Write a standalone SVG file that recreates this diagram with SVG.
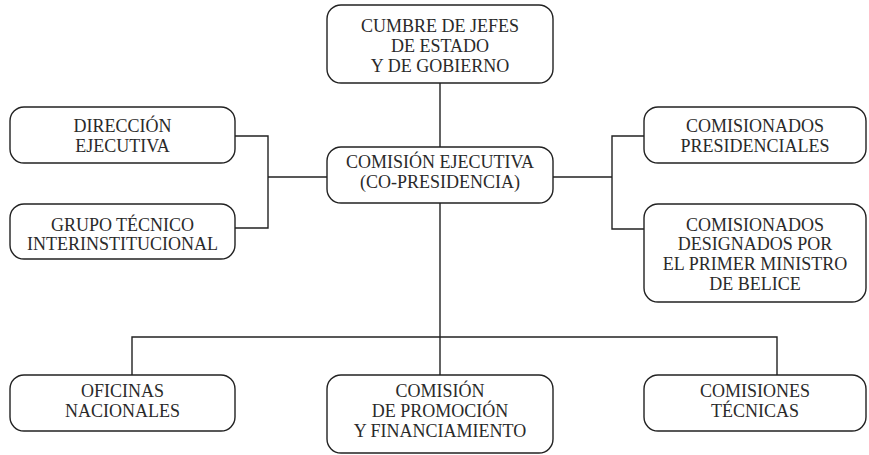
<svg xmlns="http://www.w3.org/2000/svg" width="869" height="455" viewBox="0 0 869 455">
<style>
.box{fill:#fff;stroke:#222;stroke-width:1.4}
.t{font-family:"Liberation Serif","Times New Roman",serif;font-size:18px;fill:#2a2a2a;text-anchor:middle}
.c{fill:none;stroke:#222;stroke-width:1.4}
</style>
<rect width="869" height="455" fill="#fff"/>
<g id="connectors">
<path class="c" d="M440,83V147"/>
<path class="c" d="M440,203V375"/>
<path class="c" d="M132,375V337H777V375"/>
<path class="c" d="M235,136H268V228H235M268,177H327"/>
<path class="c" d="M644,136H612V229H644M612,177H553"/>
</g>
<g id="cumbre">
<rect class="box" x="327" y="5" width="226" height="78" rx="14"/>
<text class="t" x="440" y="32">CUMBRE DE JEFES</text>
<text class="t" x="440" y="52">DE ESTADO</text>
<text class="t" x="440" y="72">Y DE GOBIERNO</text>
</g>
<g id="comision-ejecutiva">
<rect class="box" x="327" y="147" width="226" height="56" rx="14"/>
<text class="t" x="440" y="168">COMISIÓN EJECUTIVA</text>
<text class="t" x="440" y="188">(CO-PRESIDENCIA)</text>
</g>
<g id="direccion">
<rect class="box" x="10" y="107" width="225" height="56" rx="14"/>
<text class="t" x="122.5" y="132">DIRECCIÓN</text>
<text class="t" x="122.5" y="152">EJECUTIVA</text>
</g>
<g id="grupo">
<rect class="box" x="10" y="204" width="225" height="55" rx="14"/>
<text class="t" x="122.5" y="231">GRUPO TÉCNICO</text>
<text class="t" x="122.5" y="250">INTERINSTITUCIONAL</text>
</g>
<g id="presidenciales">
<rect class="box" x="644" y="107" width="222" height="56" rx="14"/>
<text class="t" x="755" y="132">COMISIONADOS</text>
<text class="t" x="755" y="152">PRESIDENCIALES</text>
</g>
<g id="belice">
<rect class="box" x="644" y="204" width="222" height="98" rx="14"/>
<text class="t" x="755" y="231">COMISIONADOS</text>
<text class="t" x="755" y="250">DESIGNADOS POR</text>
<text class="t" x="755" y="270">EL PRIMER MINISTRO</text>
<text class="t" x="755" y="290">DE BELICE</text>
</g>
<g id="oficinas">
<rect class="box" x="10" y="375" width="225" height="56" rx="14"/>
<text class="t" x="122.5" y="397">OFICINAS</text>
<text class="t" x="122.5" y="417">NACIONALES</text>
</g>
<g id="promocion">
<rect class="box" x="327" y="375" width="226" height="78" rx="14"/>
<text class="t" x="440" y="397">COMISIÓN</text>
<text class="t" x="440" y="417">DE PROMOCIÓN</text>
<text class="t" x="440" y="437">Y FINANCIAMIENTO</text>
</g>
<g id="tecnicas">
<rect class="box" x="644" y="375" width="222" height="56" rx="14"/>
<text class="t" x="755" y="397">COMISIONES</text>
<text class="t" x="755" y="417">TÉCNICAS</text>
</g>
</svg>
